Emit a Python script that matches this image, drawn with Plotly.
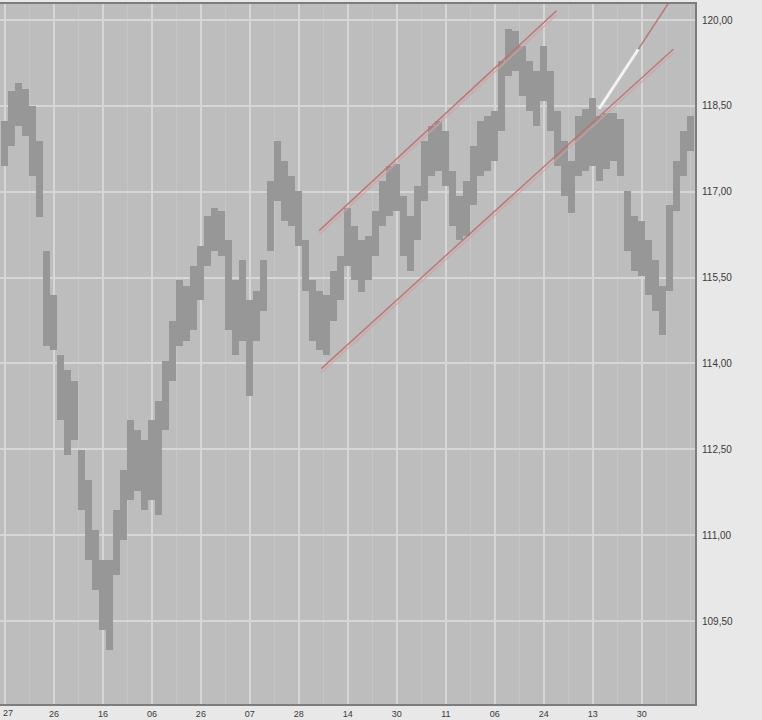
import plotly.graph_objects as go

# ---- data ----
bar_index = list(range(99))

bar_high = [118.24, 118.76, 118.90, 118.80, 118.50, 117.89, 115.97, 115.19, 114.14, 113.88,
            113.70, 112.48, 111.96, 111.09, 110.56, 110.56, 111.44, 112.13, 113.01, 112.83,
            112.66, 113.01, 113.35, 114.05, 114.75, 115.45, 115.36, 115.71, 116.06, 116.58,
            116.72, 116.67, 116.15, 115.45, 115.80, 115.10, 115.27, 115.80, 117.19, 117.89,
            117.54, 117.28, 117.02, 116.15, 115.45, 115.27, 115.19, 115.62, 115.88, 116.72,
            116.41, 116.15, 116.23, 116.67, 117.19, 117.45, 117.49, 116.93, 116.58, 117.10,
            117.89, 118.15, 118.24, 118.06, 117.37, 116.93, 117.19, 117.80, 118.24, 118.33,
            118.41, 119.28, 119.84, 119.81, 119.55, 119.28, 119.11, 119.55, 119.11, 118.41,
            117.89, 117.54, 118.33, 118.45, 118.64, 118.33, 118.38, 118.38, 118.27, 117.02,
            116.58, 116.49, 116.15, 115.80, 115.36, 116.76, 117.54, 118.06, 118.33]

bar_low = [117.45, 117.80, 118.15, 117.98, 117.28, 116.55, 114.31, 114.23, 113.01, 112.40,
           112.66, 111.44, 110.56, 110.04, 109.34, 108.99, 110.30, 110.91, 111.61, 111.78,
           111.44, 111.61, 111.35, 112.83, 113.70, 114.31, 114.40, 114.58, 115.10, 115.71,
           115.97, 115.88, 114.58, 114.14, 114.40, 113.44, 114.40, 114.92, 115.97, 116.84,
           116.49, 116.41, 116.06, 115.27, 114.40, 114.23, 114.14, 114.75, 115.10, 115.71,
           115.45, 115.24, 115.45, 115.88, 116.41, 116.58, 116.67, 115.88, 115.62, 116.15,
           116.84, 117.28, 117.37, 117.10, 116.41, 116.15, 116.23, 116.76, 117.28, 117.37,
           117.54, 118.06, 119.02, 119.11, 118.67, 118.41, 118.15, 118.59, 118.06, 117.45,
           116.93, 116.63, 117.28, 117.37, 117.45, 117.19, 117.40, 117.54, 117.28, 115.97,
           115.62, 115.53, 115.19, 114.92, 114.49, 115.27, 116.67, 117.28, 117.72]

# trend lines: (bar index, price) end points
upper_channel_x = [44.9, 78.8]
upper_channel_y = [116.32, 120.16]
lower_channel_x = [45.2, 95.5]
lower_channel_y = [113.91, 119.49]
steep_white_x = [84.9, 90.5]
steep_white_y = [118.45, 119.49]
steep_red_x = [90.5, 95.0]
steep_red_y = [119.49, 120.33]

price_ticks = [109.5, 111.0, 112.5, 114.0, 115.5, 117.0, 118.5, 120.0]
date_tick_pos = [0, 7, 14, 21, 28, 35, 42, 49, 56, 63, 70, 77, 84, 91]
date_tick_text = ["27", "26", "16", "06", "26", "07", "28", "14", "30", "11", "06", "24", "13", "30"]

# ---- figure ----
fig = go.Figure()

fig.add_trace(go.Bar(
    x=bar_index,
    y=[h - l for h, l in zip(bar_high, bar_low)],
    base=bar_low,
    marker=dict(color="#979797", line=dict(width=0)),
    width=1.0,
    hoverinfo="skip",
    showlegend=False,
))

channel_color = "rgba(185,110,110,0.85)"
channel_glow = "rgba(215,160,160,0.7)"
for xs, ys in [(upper_channel_x, upper_channel_y), (lower_channel_x, lower_channel_y)]:
    fig.add_trace(go.Scatter(x=xs, y=[v - 0.07 for v in ys], mode="lines",
                             line=dict(color=channel_glow, width=1.5),
                             showlegend=False, hoverinfo="skip"))
    fig.add_trace(go.Scatter(x=xs, y=ys, mode="lines",
                             line=dict(color=channel_color, width=1.5),
                             showlegend=False, hoverinfo="skip"))

fig.add_trace(go.Scatter(x=steep_white_x, y=steep_white_y, mode="lines",
                         line=dict(color="rgba(245,245,245,0.95)", width=3),
                         showlegend=False, hoverinfo="skip"))
fig.add_trace(go.Scatter(x=steep_red_x, y=steep_red_y, mode="lines",
                         line=dict(color=channel_color, width=1.5),
                         showlegend=False, hoverinfo="skip"))

# first date label sits at the very left edge: draw it as an annotation so it is not dropped
fig.add_annotation(x=date_tick_pos[0], y=0, xref="x", yref="paper",
                   text=date_tick_text[0], showarrow=False,
                   xanchor="left", yanchor="top", xshift=-4, yshift=-2,
                   font=dict(size=9, color="#3a3a3a"))

fig.update_layout(
    width=762, height=720,
    margin=dict(l=0, r=67, t=4, b=16),
    paper_bgcolor="#e8e8e8",
    plot_bgcolor="#bdbdbd",
    separators=", ",
    bargap=0,
    font=dict(family="Liberation Sans, Arial, sans-serif", size=10, color="#3a3a3a"),
)

fig.update_xaxes(
    range=[-0.7, 98.6],
    tickvals=date_tick_pos,
    ticktext=[""] + date_tick_text[1:],
    showgrid=True, gridcolor="#d6d6d6", gridwidth=1.5,
    minor=dict(dtick=3.5, tick0=0, showgrid=True, gridcolor="#c5c5c5", gridwidth=1),
    showline=True, mirror=True, linecolor="#7d7d7d", linewidth=2,
    ticks="", ticklen=0, zeroline=False,
    tickfont=dict(size=9, color="#3a3a3a"),
)

fig.update_yaxes(
    range=[108.05, 120.28],
    side="right",
    tickvals=price_ticks,
    tickformat=".2f",
    showgrid=True, gridcolor="#d6d6d6", gridwidth=1.5,
    showline=True, linecolor="#7d7d7d", linewidth=2,
    ticks="outside", ticklen=3, tickcolor="#e8e8e8",
    zeroline=False,
    tickfont=dict(size=10, color="#3a3a3a"),
)

fig.write_html("out.html", config={"displayModeBar": False},
               post_script="document.body.style.margin='0';")
